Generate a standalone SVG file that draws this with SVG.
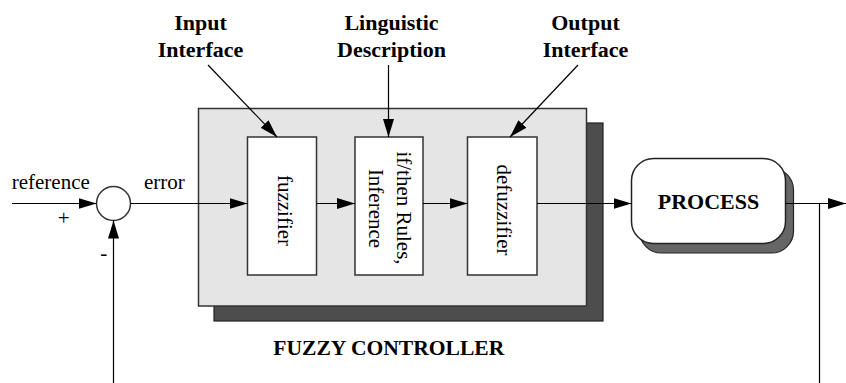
<svg xmlns="http://www.w3.org/2000/svg" width="846" height="383" viewBox="0 0 846 383">
<style>
text{font-family:"Liberation Serif","Times New Roman",serif;fill:#000}
.b{font-weight:bold;font-size:22px}
.r{font-size:21px}
.ln{stroke:#000;stroke-width:1.2;fill:none}
.box{fill:#fff;stroke:#333;stroke-width:1.5}
</style>
<defs>
<marker id="ah" markerUnits="userSpaceOnUse" markerWidth="18" markerHeight="11" refX="18" refY="5.5" orient="auto">
<path d="M0,0 L18,5.5 L0,11 z" fill="#000"/>
</marker>
</defs>
<g id="controller">
<rect x="214" y="123" width="389" height="198" fill="#4d4d4d" stroke="#222" stroke-width="1.2"/>
<rect x="198.5" y="108.5" width="388" height="197.5" fill="#e5e5e5" stroke="#333" stroke-width="1.5"/>
<text class="b" x="273.3" y="355" font-size="21" textLength="231" lengthAdjust="spacingAndGlyphs">FUZZY CONTROLLER</text>
</g>
<g id="fuzzifier">
<rect class="box" x="247.5" y="137" width="69" height="138"/>
<text class="r" font-size="22" text-anchor="middle" transform="translate(278,210.5) rotate(90)">fuzzifier</text>
</g>
<g id="inference">
<rect class="box" x="355" y="137" width="68" height="138"/>
<text class="r" text-anchor="middle" transform="translate(396.5,208) rotate(90)">if/then Rules,</text>
<text class="r" font-size="22" text-anchor="middle" transform="translate(368.5,208.5) rotate(90)">Inference</text>
</g>
<g id="defuzzifier">
<rect class="box" x="467.5" y="137" width="69.5" height="138"/>
<text class="r" font-size="19" text-anchor="middle" transform="translate(497,210) rotate(90)">defuzzifier</text>
</g>
<g id="process">
<rect x="639.5" y="168" width="154" height="85" rx="22" ry="22" fill="#666" stroke="#222" stroke-width="1.2"/>
<rect x="631.5" y="158.5" width="154" height="85" rx="22" ry="22" fill="#fff" stroke="#222" stroke-width="1.5"/>
<text class="b" x="708.5" y="209" text-anchor="middle">PROCESS</text>
</g>
<g id="summing">
<circle cx="113.5" cy="203.5" r="17" fill="#fff" stroke="#333" stroke-width="1.5"/>
<text class="r" x="63.7" y="224.5" text-anchor="middle">+</text>
<text class="r" x="103.7" y="260" text-anchor="middle">-</text>
</g>
<g id="labels">
<text class="b" x="200.5" y="30" text-anchor="middle">Input</text>
<text class="b" x="200.5" y="57" text-anchor="middle">Interface</text>
<text class="b" x="391.5" y="30" text-anchor="middle">Linguistic</text>
<text class="b" x="391.5" y="57" text-anchor="middle">Description</text>
<text class="b" x="585.5" y="30" text-anchor="middle">Output</text>
<text class="b" x="585.5" y="57" text-anchor="middle">Interface</text>
<text class="r" x="11.7" y="188.5">reference</text>
<text class="r" x="144" y="188.5">error</text>
</g>
<g id="connectors">
<line class="ln" x1="12" y1="203.5" x2="96.5" y2="203.5" marker-end="url(#ah)"/>
<line class="ln" x1="113.5" y1="383" x2="113.5" y2="220.5" marker-end="url(#ah)"/>
<line class="ln" x1="130.5" y1="203.5" x2="247.5" y2="203.5" marker-end="url(#ah)"/>
<line class="ln" x1="316.5" y1="203.5" x2="355" y2="203.5" marker-end="url(#ah)"/>
<line class="ln" x1="423" y1="203.5" x2="467.5" y2="203.5" marker-end="url(#ah)"/>
<line class="ln" x1="537" y1="203.5" x2="631.5" y2="203.5" marker-end="url(#ah)"/>
<line class="ln" x1="785.5" y1="203.5" x2="846" y2="203.5" marker-end="url(#ah)"/>
<line class="ln" x1="819.5" y1="203.5" x2="819.5" y2="383"/>
<line class="ln" x1="208" y1="65" x2="277" y2="137" marker-end="url(#ah)"/>
<line class="ln" x1="388.5" y1="65" x2="388.5" y2="137" marker-end="url(#ah)"/>
<line class="ln" x1="578" y1="65" x2="510" y2="137" marker-end="url(#ah)"/>
</g>
</svg>
